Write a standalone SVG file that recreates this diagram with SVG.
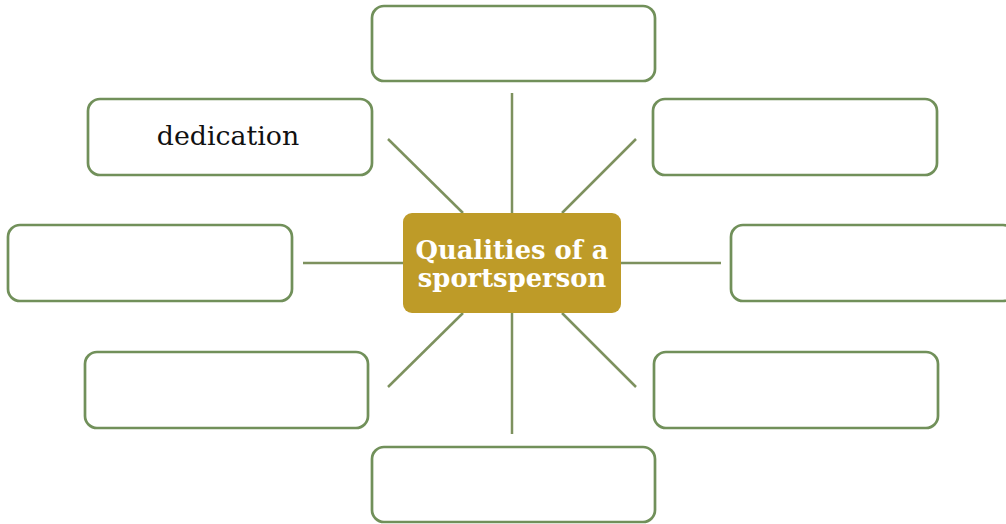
<svg xmlns="http://www.w3.org/2000/svg" width="1006" height="524" viewBox="0 0 1006 524">
<style>
.box{fill:#fff;stroke:#71905A;stroke-width:2.7}
.ln{stroke:#7D915E;stroke-width:2.5;fill:none}
.t{font-family:"DejaVu Serif","Liberation Serif",serif;text-anchor:middle}
</style>
<rect width="1006" height="524" fill="#fff"/>
<g id="connectors">
<line class="ln" x1="512" y1="93" x2="512" y2="213"/>
<line class="ln" x1="512" y1="313" x2="512" y2="434"/>
<line class="ln" x1="303" y1="263" x2="403" y2="263"/>
<line class="ln" x1="621" y1="263" x2="721" y2="263"/>
<line class="ln" x1="388" y1="139" x2="463" y2="213"/>
<line class="ln" x1="636" y1="139" x2="562" y2="213"/>
<line class="ln" x1="463" y1="313" x2="388" y2="387"/>
<line class="ln" x1="562" y1="313" x2="636" y2="387"/>
</g>
<g id="center">
<rect x="403" y="213" width="218" height="100" rx="9" fill="#BE9B28"/>
<text class="t" x="512" y="259" font-size="25.8" font-weight="bold" fill="#fff">Qualities of a</text>
<text class="t" x="512" y="287" font-size="25.8" font-weight="bold" fill="#fff">sportsperson</text>
</g>
<g id="top"><rect class="box" x="372" y="6" width="283" height="75" rx="12"/></g>
<g id="upper-left"><rect class="box" x="88" y="99" width="284" height="76" rx="12"/>
<text class="t" x="228" y="145" font-size="26.8" fill="#111">dedication</text></g>
<g id="upper-right"><rect class="box" x="653" y="99" width="284" height="76" rx="12"/></g>
<g id="left"><rect class="box" x="8" y="225" width="284" height="76" rx="12"/></g>
<g id="right"><rect class="box" x="731" y="225" width="284" height="76" rx="12"/></g>
<g id="lower-left"><rect class="box" x="85" y="352" width="283" height="76" rx="12"/></g>
<g id="lower-right"><rect class="box" x="654" y="352" width="284" height="76" rx="12"/></g>
<g id="bottom"><rect class="box" x="372" y="447" width="283" height="75" rx="12"/></g>
</svg>
